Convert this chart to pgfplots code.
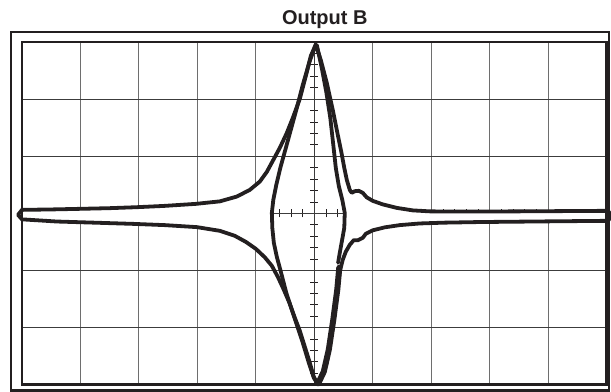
\documentclass[border=0pt]{standalone}
\usepackage{fontspec}
\setmainfont{Liberation Sans}
\usepackage{pgfplots}
\pgfplotsset{compat=1.18}
\definecolor{ink}{RGB}{35,31,32}
\definecolor{gridv}{RGB}{110,110,110}
\definecolor{gridh}{RGB}{60,60,60}

% scope traces (px -> data: x=(px-314.5)/58.5, y=(213.5-py)/57.17)
\pgfplotstableread{
x y
-5.068 -0.026
-5.000 0.061
-4.521 0.068
-4.009 0.079
-3.496 0.091
-3.034 0.108
-2.556 0.131
-2.026 0.166
-1.615 0.210
-1.325 0.294
-1.103 0.411
-0.932 0.556
-0.812 0.726
-0.692 0.953
-0.590 1.146
-0.470 1.408
-0.368 1.670
-0.248 2.003
-0.145 2.405
-0.060 2.755
0.026 2.956
0.111 2.685
0.214 2.283
0.316 1.810
0.402 1.373
0.462 1.076
0.513 0.796
0.556 0.586
0.607 0.411
0.641 0.359
0.692 0.388
0.761 0.394
0.829 0.359
0.897 0.280
1.000 0.219
1.171 0.157
1.410 0.096
1.684 0.052
1.974 0.035
2.487 0.031
3.513 0.035
5.000 0.044
5.043 0.026
5.043 -0.114
5.000 -0.131
4.026 -0.140
2.829 -0.152
2.214 -0.163
1.803 -0.177
1.462 -0.206
1.205 -0.245
1.000 -0.297
0.880 -0.359
0.829 -0.429
0.744 -0.472
0.675 -0.469
0.607 -0.551
0.538 -0.673
0.487 -0.813
0.444 -0.988
0.402 -1.251
0.321 -1.915
0.214 -2.615
0.128 -2.860
0.051 -2.975
-0.009 -2.860
-0.077 -2.615
-0.162 -2.335
-0.248 -2.055
-0.333 -1.828
-0.419 -1.583
-0.521 -1.338
-0.624 -1.111
-0.726 -0.918
-0.846 -0.770
-1.000 -0.621
-1.171 -0.499
-1.359 -0.394
-1.615 -0.306
-2.009 -0.241
-2.556 -0.206
-3.103 -0.184
-3.667 -0.166
-4.402 -0.143
-5.000 -0.105
-5.068 -0.026
}\outer

\pgfplotstableread{
x y
0.026 2.956
-0.077 2.668
-0.197 2.248
-0.299 1.845
-0.402 1.461
-0.496 1.111
-0.581 0.796
-0.650 0.499
-0.701 0.236
-0.726 0.009
-0.718 -0.254
-0.692 -0.516
-0.641 -0.761
-0.581 -0.988
-0.479 -1.391
-0.385 -1.688
-0.299 -1.950
-0.197 -2.265
-0.094 -2.615
-0.009 -2.877
0.051 -2.975
}\innerleft

\pgfplotstableread{
x y
0.043 2.947
0.128 2.545
0.205 2.125
0.274 1.670
0.325 1.198
0.368 0.796
0.419 0.481
0.479 0.236
0.521 0.009
0.513 -0.254
0.470 -0.499
0.436 -0.691
0.407 -0.866
}\innerright

\pgfplotstableread{
x y
0.427 -0.953
0.393 -1.338
0.325 -1.863
0.248 -2.388
0.162 -2.772
0.068 -2.975
}\thick

\pgfplotstableread{
x y
-5.068 -0.026
-5.000 0.061
-4.009 0.079
-3.034 0.108
-2.026 0.166
-1.615 0.210
-1.325 0.294
-1.103 0.411
-0.932 0.556
-0.812 0.726
-0.581 0.796
-0.650 0.499
-0.701 0.236
-0.726 0.009
-0.718 -0.254
-0.692 -0.516
-0.641 -0.761
-0.846 -0.770
-1.000 -0.621
-1.171 -0.499
-1.359 -0.394
-1.615 -0.306
-2.009 -0.241
-3.103 -0.184
-4.402 -0.143
-5.000 -0.105
}\leftband

\pgfplotstableread{
x y
0.513 0.796
0.556 0.586
0.607 0.411
0.641 0.359
0.692 0.388
0.761 0.394
0.829 0.359
0.897 0.280
1.000 0.219
1.171 0.157
1.410 0.096
1.684 0.052
1.974 0.035
3.513 0.035
5.000 0.044
5.043 0.026
5.043 -0.114
5.000 -0.131
2.829 -0.152
1.803 -0.177
1.462 -0.206
1.205 -0.245
1.000 -0.297
0.880 -0.359
0.829 -0.429
0.744 -0.472
0.675 -0.469
0.607 -0.551
0.538 -0.673
0.487 -0.813
0.407 -0.866
0.436 -0.691
0.470 -0.499
0.513 -0.254
0.521 0.009
0.479 0.236
0.419 0.481
0.368 0.796
}\rightband

\begin{document}
\begin{tikzpicture}
\begin{axis}[
    scale only axis,
    width=585pt, height=343pt,
    xmin=-5, xmax=5, ymin=-3, ymax=3,
    axis lines=center,
    axis line style={-, draw=gridh, line width=0.9pt},
    xtick={-5,...,5}, ytick={-3,...,3},
    minor x tick num=4, minor y tick num=4,
    xticklabels={}, yticklabels={},
    tick align=center,
    major tick length=0pt, minor tick length=8pt,
    tick style={draw=ink, line width=0.8pt},
    grid=major,
    x grid style={draw=gridv, line width=1pt},
    y grid style={draw=gridh, line width=1pt},
    clip=false,
]
% page extent and frames
\path ([xshift=-22pt,yshift=-7pt]rel axis cs:0,0) rectangle ([xshift=4pt,yshift=42pt]rel axis cs:1,1);

\addplot[fill=white, draw=none] table {\leftband} --cycle;
\addplot[fill=white, draw=none] table {\rightband} --cycle;

\addplot[ink, line width=3.8pt, line join=round, line cap=round] table {\outer};
\addplot[ink, line width=3.8pt, line join=round, line cap=round] table {\innerleft};
\addplot[ink, line width=3.8pt, line join=round, line cap=round] table {\innerright};
\addplot[ink, line width=6pt, line join=round, line cap=round] table {\thick};

\draw[ink, line width=2.6pt] (rel axis cs:0,0) rectangle (rel axis cs:1,1);
\draw[ink, line width=2.6pt] ([xshift=-11pt,yshift=-5.6pt]rel axis cs:0,0) rectangle ([xshift=2.6pt,yshift=10pt]rel axis cs:1,1);
\node[font=\bfseries\fontsize{20}{24}\selectfont, text=ink, anchor=base]
  at ([xshift=10.5pt,yshift=17pt]rel axis cs:0.5,1) {Output B};
\end{axis}
\end{tikzpicture}
\end{document}
